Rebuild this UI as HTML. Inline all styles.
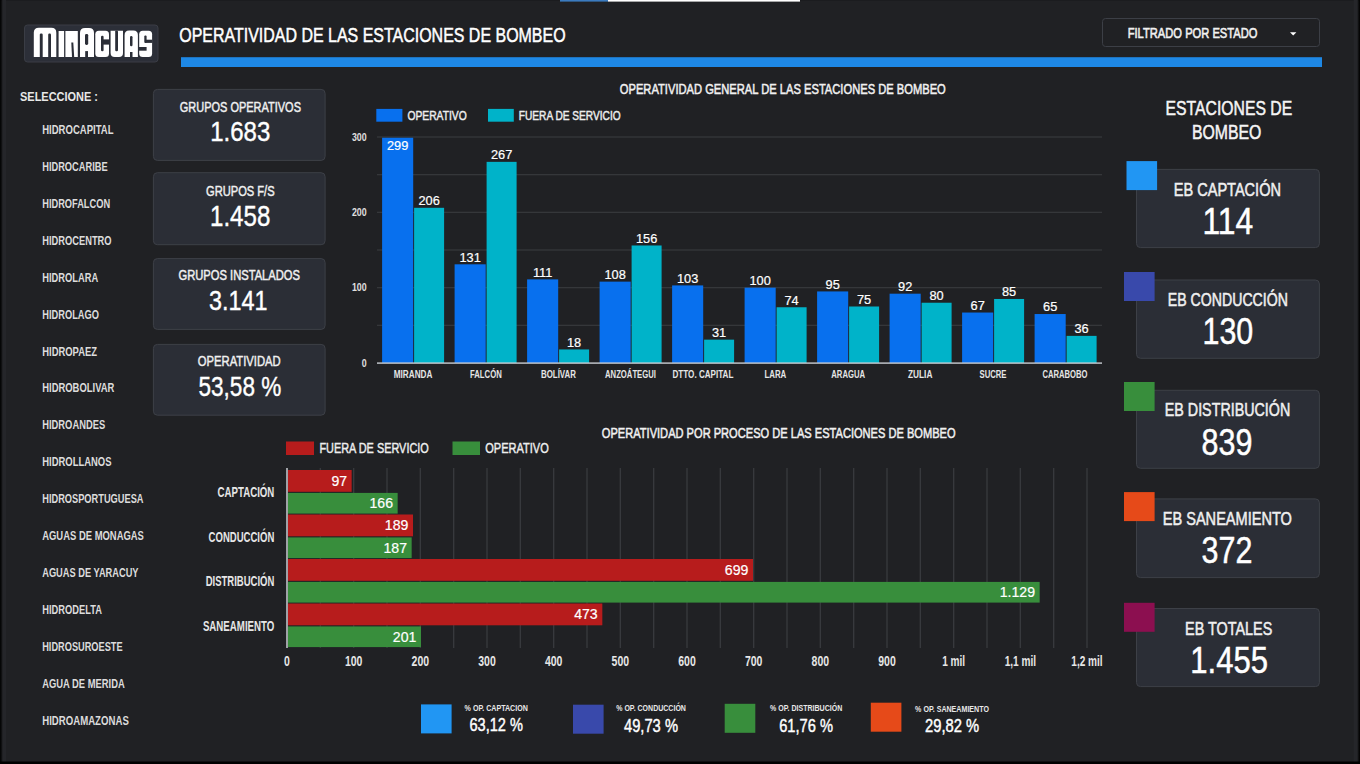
<!DOCTYPE html>
<html><head><meta charset="utf-8"><title>Operatividad de las Estaciones de Bombeo</title>
<style>
html,body{margin:0;padding:0;background:#202124;width:1360px;height:764px;overflow:hidden}
svg{display:block;font-family:"Liberation Sans",sans-serif}
</style></head><body>
<svg width="1360" height="764" viewBox="0 0 1360 764">
<defs>
<linearGradient id="lg" x1="0" x2="1" y1="0" y2="0"><stop offset="0" stop-color="#000"/><stop offset="1" stop-color="#000" stop-opacity="0"/></linearGradient>
<linearGradient id="rg" x1="1" x2="0" y1="0" y2="0"><stop offset="0" stop-color="#000"/><stop offset="1" stop-color="#000" stop-opacity="0"/></linearGradient>
</defs>
<rect width="1360" height="764" fill="#202124"/>
<rect x="0" y="0" width="1360" height="1" fill="#1b1c1f"/>
<rect x="560.00" y="0.00" width="48.00" height="1.60" fill="#3b7bbf" />
<rect x="608.00" y="0.00" width="192.00" height="1.60" fill="#ffffff" />
<rect x="24.5" y="25" width="133.5" height="37" rx="3" fill="#2c2f38" stroke="#3a3d45" stroke-width="1"/>
<g fill="#ffffff">
<path d="M33.8 57 V32.8 Q33.8 27.8 38.8 27.8 H51.3 Q56.3 27.8 56.3 32.8 V57 Z"/>
<rect x="58.6" y="31" width="5.5" height="26"/>
<rect x="65.4" y="31" width="12.4" height="26"/>
<path d="M80 57 V33 Q80 28 85 28 H89 Q94 28 94 33 V57 Z"/>
<rect x="95.3" y="30.7" width="13.7" height="26.3" rx="3.5"/>
<path d="M110.6 30.7 H123 V53 Q123 57 119 57 H114.6 Q110.6 57 110.6 53 Z"/>
<path d="M124.6 57 V35 Q124.6 30.5 129.1 30.5 H133.4 Q137.9 30.5 137.9 35 V57 Z"/>
<rect x="139.2" y="30.8" width="12.9" height="26.2" rx="3.5"/>
</g>
<g fill="#2b2e37">
<rect x="39.8" y="33.6" width="2.9" height="24" rx="1.2"/>
<rect x="48.2" y="33.6" width="2.8" height="24" rx="1.2"/>
<path d="M71.3 42.5 H73.3 L74.2 57.2 H72 Z"/>
<rect x="85" y="33.9" width="3.2" height="11.1" rx="1.4"/>
<rect x="85.2" y="51.1" width="2.8" height="6.2"/>
<rect x="101" y="35.8" width="2.6" height="15.5" rx="1.2"/>
<rect x="103" y="39.4" width="6.4" height="5.2"/>
<rect x="115.2" y="30.4" width="2.8" height="20.9" rx="1.2"/>
<rect x="130" y="36" width="2.5" height="10.3" rx="1.2"/>
<rect x="130" y="52" width="2.5" height="5.3"/>
<rect x="144.3" y="35.5" width="2.3" height="7.4" rx="1"/>
<rect x="145" y="39.7" width="7.4" height="3.2"/>
<rect x="138.9" y="47" width="7.7" height="3.7"/>
</g>

<text transform="translate(179.30,42.00) scale(0.7800,1)" font-size="20.49" font-weight="normal" fill="#fff" stroke="#fff" stroke-width="0.5">OPERATIVIDAD DE LAS ESTACIONES DE BOMBEO</text>
<rect x="181.00" y="57.20" width="1141.00" height="9.80" fill="#1e88e5" />
<rect x="1102.5" y="18.5" width="217" height="28" rx="3" fill="none" stroke="#3c3f46" stroke-width="1"/>
<text transform="translate(1127.70,38.00) scale(0.8005,1)" font-size="13.95" font-weight="normal" fill="#f1f1f1" stroke="#f1f1f1" stroke-width="0.55">FILTRADO POR ESTADO</text>
<path d="M1290 32.2 L1296.4 32.2 L1293.2 35.4 Z" fill="#fff"/>
<text transform="translate(20.00,100.90) scale(0.8040,1)" font-size="13.66" font-weight="bold" fill="#e8e8e8">SELECCIONE :</text>
<text transform="translate(42.20,134.00) scale(0.7818,1)" font-size="12.21" font-weight="bold" fill="#dcdcdc">HIDROCAPITAL</text>
<text transform="translate(42.20,170.92) scale(0.7604,1)" font-size="12.21" font-weight="bold" fill="#dcdcdc">HIDROCARIBE</text>
<text transform="translate(42.20,207.84) scale(0.7593,1)" font-size="12.21" font-weight="bold" fill="#dcdcdc">HIDROFALCON</text>
<text transform="translate(42.20,244.76) scale(0.7635,1)" font-size="12.21" font-weight="bold" fill="#dcdcdc">HIDROCENTRO</text>
<text transform="translate(42.20,281.68) scale(0.7658,1)" font-size="12.21" font-weight="bold" fill="#dcdcdc">HIDROLARA</text>
<text transform="translate(42.20,318.60) scale(0.7614,1)" font-size="12.21" font-weight="bold" fill="#dcdcdc">HIDROLAGO</text>
<text transform="translate(42.20,355.52) scale(0.7733,1)" font-size="12.21" font-weight="bold" fill="#dcdcdc">HIDROPAEZ</text>
<text transform="translate(42.20,392.44) scale(0.7730,1)" font-size="12.21" font-weight="bold" fill="#dcdcdc">HIDROBOLIVAR</text>
<text transform="translate(42.20,429.36) scale(0.7685,1)" font-size="12.21" font-weight="bold" fill="#dcdcdc">HIDROANDES</text>
<text transform="translate(42.20,466.28) scale(0.7749,1)" font-size="12.21" font-weight="bold" fill="#dcdcdc">HIDROLLANOS</text>
<text transform="translate(42.20,503.20) scale(0.7588,1)" font-size="12.21" font-weight="bold" fill="#dcdcdc">HIDROSPORTUGUESA</text>
<text transform="translate(42.20,540.12) scale(0.7735,1)" font-size="12.21" font-weight="bold" fill="#dcdcdc">AGUAS DE MONAGAS</text>
<text transform="translate(42.20,577.04) scale(0.7607,1)" font-size="12.21" font-weight="bold" fill="#dcdcdc">AGUAS DE YARACUY</text>
<text transform="translate(42.20,613.96) scale(0.7634,1)" font-size="12.21" font-weight="bold" fill="#dcdcdc">HIDRODELTA</text>
<text transform="translate(42.20,650.88) scale(0.7557,1)" font-size="12.21" font-weight="bold" fill="#dcdcdc">HIDROSUROESTE</text>
<text transform="translate(42.20,687.80) scale(0.7692,1)" font-size="12.21" font-weight="bold" fill="#dcdcdc">AGUA DE MERIDA</text>
<text transform="translate(42.20,724.72) scale(0.7890,1)" font-size="12.21" font-weight="bold" fill="#dcdcdc">HIDROAMAZONAS</text>
<rect x="153.4" y="89.40" width="171.7" height="71.00" rx="4" fill="#2b2e36" stroke="#3d4047" stroke-width="1"/>
<text transform="translate(179.80,111.90) scale(0.7793,1)" font-size="14.10" font-weight="normal" fill="#f0f0f0" stroke="#f0f0f0" stroke-width="0.45">GRUPOS OPERATIVOS</text>
<text transform="translate(210.20,140.90) scale(0.8479,1)" font-size="28.34" font-weight="normal" fill="#fff" stroke="#fff" stroke-width="0.4">1.683</text>
<rect x="153.4" y="172.70" width="171.7" height="72.00" rx="4" fill="#2b2e36" stroke="#3d4047" stroke-width="1"/>
<text transform="translate(206.00,195.90) scale(0.7828,1)" font-size="14.24" font-weight="normal" fill="#f0f0f0" stroke="#f0f0f0" stroke-width="0.45">GRUPOS F/S</text>
<text transform="translate(210.00,226.20) scale(0.8294,1)" font-size="29.07" font-weight="normal" fill="#fff" stroke="#fff" stroke-width="0.4">1.458</text>
<rect x="153.4" y="258.60" width="171.7" height="70.80" rx="4" fill="#2b2e36" stroke="#3d4047" stroke-width="1"/>
<text transform="translate(178.50,280.00) scale(0.8104,1)" font-size="13.81" font-weight="normal" fill="#f0f0f0" stroke="#f0f0f0" stroke-width="0.45">GRUPOS INSTALADOS</text>
<text transform="translate(209.00,310.10) scale(0.8501,1)" font-size="27.47" font-weight="normal" fill="#fff" stroke="#fff" stroke-width="0.4">3.141</text>
<rect x="153.4" y="344.40" width="171.7" height="70.80" rx="4" fill="#2b2e36" stroke="#3d4047" stroke-width="1"/>
<text transform="translate(197.80,366.20) scale(0.7906,1)" font-size="14.24" font-weight="normal" fill="#f0f0f0" stroke="#f0f0f0" stroke-width="0.45">OPERATIVIDAD</text>
<text transform="translate(198.50,395.70) scale(0.8213,1)" font-size="27.47" font-weight="normal" fill="#fff" stroke="#fff" stroke-width="0.4">53,58 %</text>
<text transform="translate(619.80,94.30) scale(0.8008,1)" font-size="13.95" font-weight="normal" fill="#f0f0f0" stroke="#f0f0f0" stroke-width="0.5">OPERATIVIDAD GENERAL DE LAS ESTACIONES DE BOMBEO</text>
<rect x="376.30" y="108.90" width="26.10" height="12.80" fill="#0870ee" />
<text transform="translate(407.40,119.90) scale(0.8062,1)" font-size="12.79" font-weight="normal" fill="#eeeeee" stroke="#eeeeee" stroke-width="0.45">OPERATIVO</text>
<rect x="488.00" y="108.90" width="25.80" height="12.80" fill="#00b3c9" />
<text transform="translate(518.80,119.90) scale(0.7943,1)" font-size="12.79" font-weight="normal" fill="#eeeeee" stroke="#eeeeee" stroke-width="0.45">FUERA DE SERVICIO</text>
<rect x="377.00" y="324.73" width="725.00" height="1.20" fill="#37393d" />
<rect x="377.00" y="287.07" width="725.00" height="1.20" fill="#37393d" />
<rect x="377.00" y="249.40" width="725.00" height="1.20" fill="#37393d" />
<rect x="377.00" y="211.73" width="725.00" height="1.20" fill="#37393d" />
<rect x="377.00" y="174.07" width="725.00" height="1.20" fill="#37393d" />
<rect x="377.00" y="136.40" width="725.00" height="1.20" fill="#37393d" />
<text transform="translate(361.72,366.60) scale(0.8400,1)" font-size="10.47" font-weight="bold" fill="#e0e0e0">0</text>
<text transform="translate(351.92,291.27) scale(0.8400,1)" font-size="10.47" font-weight="bold" fill="#e0e0e0">100</text>
<text transform="translate(351.92,215.93) scale(0.8400,1)" font-size="10.47" font-weight="bold" fill="#e0e0e0">200</text>
<text transform="translate(351.92,140.60) scale(0.8400,1)" font-size="10.47" font-weight="bold" fill="#e0e0e0">300</text>
<rect x="382.10" y="137.75" width="31.10" height="225.25" fill="#0870ee" />
<text transform="translate(386.97,150.15) scale(1.0000,1)" font-size="12.79" font-weight="normal" fill="#ffffff" stroke="#ffffff" stroke-width="0.2">299</text>
<rect x="414.10" y="207.81" width="30.00" height="155.19" fill="#00b3c9" />
<text transform="translate(418.42,205.21) scale(1.0000,1)" font-size="12.79" font-weight="normal" fill="#ffffff" stroke="#ffffff" stroke-width="0.2">206</text>
<text transform="translate(393.80,378.20) scale(0.7815,1)" font-size="10.47" font-weight="bold" fill="#e6e6e6">MIRANDA</text>
<rect x="454.60" y="264.31" width="31.10" height="98.69" fill="#0870ee" />
<text transform="translate(459.47,261.71) scale(1.0000,1)" font-size="12.79" font-weight="normal" fill="#ffffff" stroke="#ffffff" stroke-width="0.2">131</text>
<rect x="486.60" y="161.86" width="30.00" height="201.14" fill="#00b3c9" />
<text transform="translate(490.92,159.26) scale(1.0000,1)" font-size="12.79" font-weight="normal" fill="#ffffff" stroke="#ffffff" stroke-width="0.2">267</text>
<text transform="translate(470.00,378.20) scale(0.7393,1)" font-size="10.47" font-weight="bold" fill="#e6e6e6">FALCÓN</text>
<rect x="527.10" y="279.38" width="31.10" height="83.62" fill="#0870ee" />
<text transform="translate(532.93,276.78) scale(1.0000,1)" font-size="12.79" font-weight="normal" fill="#ffffff" stroke="#ffffff" stroke-width="0.2">111</text>
<rect x="559.10" y="349.44" width="30.00" height="13.56" fill="#00b3c9" />
<text transform="translate(567.00,346.84) scale(1.0000,1)" font-size="12.79" font-weight="normal" fill="#ffffff" stroke="#ffffff" stroke-width="0.2">18</text>
<text transform="translate(541.00,378.20) scale(0.7536,1)" font-size="10.47" font-weight="bold" fill="#e6e6e6">BOLÍVAR</text>
<rect x="599.60" y="281.64" width="31.10" height="81.36" fill="#0870ee" />
<text transform="translate(604.47,279.04) scale(1.0000,1)" font-size="12.79" font-weight="normal" fill="#ffffff" stroke="#ffffff" stroke-width="0.2">108</text>
<rect x="631.60" y="245.48" width="30.00" height="117.52" fill="#00b3c9" />
<text transform="translate(635.92,242.88) scale(1.0000,1)" font-size="12.79" font-weight="normal" fill="#ffffff" stroke="#ffffff" stroke-width="0.2">156</text>
<text transform="translate(605.00,378.20) scale(0.7373,1)" font-size="10.47" font-weight="bold" fill="#e6e6e6">ANZOÁTEGUI</text>
<rect x="672.10" y="285.41" width="31.10" height="77.59" fill="#0870ee" />
<text transform="translate(676.97,282.81) scale(1.0000,1)" font-size="12.79" font-weight="normal" fill="#ffffff" stroke="#ffffff" stroke-width="0.2">103</text>
<rect x="704.10" y="339.65" width="30.00" height="23.35" fill="#00b3c9" />
<text transform="translate(712.00,337.05) scale(1.0000,1)" font-size="12.79" font-weight="normal" fill="#ffffff" stroke="#ffffff" stroke-width="0.2">31</text>
<text transform="translate(672.50,378.20) scale(0.7738,1)" font-size="10.47" font-weight="bold" fill="#e6e6e6">DTTO. CAPITAL</text>
<rect x="744.60" y="287.67" width="31.10" height="75.33" fill="#0870ee" />
<text transform="translate(749.47,285.07) scale(1.0000,1)" font-size="12.79" font-weight="normal" fill="#ffffff" stroke="#ffffff" stroke-width="0.2">100</text>
<rect x="776.60" y="307.25" width="30.00" height="55.75" fill="#00b3c9" />
<text transform="translate(784.50,304.65) scale(1.0000,1)" font-size="12.79" font-weight="normal" fill="#ffffff" stroke="#ffffff" stroke-width="0.2">74</text>
<text transform="translate(764.40,378.20) scale(0.7541,1)" font-size="10.47" font-weight="bold" fill="#e6e6e6">LARA</text>
<rect x="817.10" y="291.43" width="31.10" height="71.57" fill="#0870ee" />
<text transform="translate(825.55,288.83) scale(1.0000,1)" font-size="12.79" font-weight="normal" fill="#ffffff" stroke="#ffffff" stroke-width="0.2">95</text>
<rect x="849.10" y="306.50" width="30.00" height="56.50" fill="#00b3c9" />
<text transform="translate(857.00,303.90) scale(1.0000,1)" font-size="12.79" font-weight="normal" fill="#ffffff" stroke="#ffffff" stroke-width="0.2">75</text>
<text transform="translate(831.30,378.20) scale(0.7335,1)" font-size="10.47" font-weight="bold" fill="#e6e6e6">ARAGUA</text>
<rect x="889.60" y="293.69" width="31.10" height="69.31" fill="#0870ee" />
<text transform="translate(898.05,291.09) scale(1.0000,1)" font-size="12.79" font-weight="normal" fill="#ffffff" stroke="#ffffff" stroke-width="0.2">92</text>
<rect x="921.60" y="302.73" width="30.00" height="60.27" fill="#00b3c9" />
<text transform="translate(929.50,300.13) scale(1.0000,1)" font-size="12.79" font-weight="normal" fill="#ffffff" stroke="#ffffff" stroke-width="0.2">80</text>
<text transform="translate(908.00,378.20) scale(0.7917,1)" font-size="10.47" font-weight="bold" fill="#e6e6e6">ZULIA</text>
<rect x="962.10" y="312.53" width="31.10" height="50.47" fill="#0870ee" />
<text transform="translate(970.55,309.93) scale(1.0000,1)" font-size="12.79" font-weight="normal" fill="#ffffff" stroke="#ffffff" stroke-width="0.2">67</text>
<rect x="994.10" y="298.97" width="30.00" height="64.03" fill="#00b3c9" />
<text transform="translate(1002.00,296.37) scale(1.0000,1)" font-size="12.79" font-weight="normal" fill="#ffffff" stroke="#ffffff" stroke-width="0.2">85</text>
<text transform="translate(979.50,378.20) scale(0.7371,1)" font-size="10.47" font-weight="bold" fill="#e6e6e6">SUCRE</text>
<rect x="1034.60" y="314.03" width="31.10" height="48.97" fill="#0870ee" />
<text transform="translate(1043.05,311.43) scale(1.0000,1)" font-size="12.79" font-weight="normal" fill="#ffffff" stroke="#ffffff" stroke-width="0.2">65</text>
<rect x="1066.60" y="335.88" width="30.00" height="27.12" fill="#00b3c9" />
<text transform="translate(1074.50,333.28) scale(1.0000,1)" font-size="12.79" font-weight="normal" fill="#ffffff" stroke="#ffffff" stroke-width="0.2">36</text>
<text transform="translate(1042.50,378.20) scale(0.7301,1)" font-size="10.47" font-weight="bold" fill="#e6e6e6">CARABOBO</text>
<rect x="377.00" y="362.40" width="725.00" height="1.40" fill="#c8ccd2" />
<text transform="translate(601.80,438.00) scale(0.7954,1)" font-size="13.95" font-weight="normal" fill="#f0f0f0" stroke="#f0f0f0" stroke-width="0.5">OPERATIVIDAD POR PROCESO DE LAS ESTACIONES DE BOMBEO</text>
<rect x="286.00" y="441.50" width="28.00" height="13.50" fill="#b71c1c" />
<text transform="translate(319.40,453.00) scale(0.7146,1)" font-size="15.26" font-weight="normal" fill="#eeeeee" stroke="#eeeeee" stroke-width="0.45">FUERA DE SERVICIO</text>
<rect x="452.50" y="441.50" width="27.50" height="13.50" fill="#388e3c" />
<text transform="translate(485.30,453.00) scale(0.7235,1)" font-size="15.26" font-weight="normal" fill="#eeeeee" stroke="#eeeeee" stroke-width="0.45">OPERATIVO</text>
<rect x="319.63" y="468.00" width="1.40" height="180.00" fill="#37393d" />
<rect x="352.97" y="468.00" width="1.40" height="180.00" fill="#37393d" />
<rect x="386.30" y="468.00" width="1.40" height="180.00" fill="#37393d" />
<rect x="419.63" y="468.00" width="1.40" height="180.00" fill="#37393d" />
<rect x="452.97" y="468.00" width="1.40" height="180.00" fill="#37393d" />
<rect x="486.30" y="468.00" width="1.40" height="180.00" fill="#37393d" />
<rect x="519.63" y="468.00" width="1.40" height="180.00" fill="#37393d" />
<rect x="552.97" y="468.00" width="1.40" height="180.00" fill="#37393d" />
<rect x="586.30" y="468.00" width="1.40" height="180.00" fill="#37393d" />
<rect x="619.63" y="468.00" width="1.40" height="180.00" fill="#37393d" />
<rect x="652.97" y="468.00" width="1.40" height="180.00" fill="#37393d" />
<rect x="686.30" y="468.00" width="1.40" height="180.00" fill="#37393d" />
<rect x="719.63" y="468.00" width="1.40" height="180.00" fill="#37393d" />
<rect x="752.97" y="468.00" width="1.40" height="180.00" fill="#37393d" />
<rect x="786.30" y="468.00" width="1.40" height="180.00" fill="#37393d" />
<rect x="819.63" y="468.00" width="1.40" height="180.00" fill="#37393d" />
<rect x="852.97" y="468.00" width="1.40" height="180.00" fill="#37393d" />
<rect x="886.30" y="468.00" width="1.40" height="180.00" fill="#37393d" />
<rect x="919.63" y="468.00" width="1.40" height="180.00" fill="#37393d" />
<rect x="952.97" y="468.00" width="1.40" height="180.00" fill="#37393d" />
<rect x="986.30" y="468.00" width="1.40" height="180.00" fill="#37393d" />
<rect x="1019.63" y="468.00" width="1.40" height="180.00" fill="#37393d" />
<rect x="1052.97" y="468.00" width="1.40" height="180.00" fill="#37393d" />
<rect x="1086.30" y="468.00" width="1.40" height="180.00" fill="#37393d" />
<rect x="288.00" y="470.00" width="63.67" height="21.80" fill="#b71c1c" />
<text transform="translate(331.42,485.75) scale(1.0000,1)" font-size="14.10" font-weight="normal" fill="#ffffff" stroke="#ffffff" stroke-width="0.2">97</text>
<rect x="288.00" y="492.90" width="109.67" height="20.70" fill="#388e3c" />
<text transform="translate(369.52,508.10) scale(1.0000,1)" font-size="14.10" font-weight="normal" fill="#ffffff" stroke="#ffffff" stroke-width="0.2">166</text>
<text transform="translate(217.60,497.35) scale(0.6657,1)" font-size="14.53" font-weight="bold" fill="#e6e6e6">CAPTACIÓN</text>
<rect x="288.00" y="514.50" width="125.00" height="21.80" fill="#b71c1c" />
<text transform="translate(384.85,530.25) scale(1.0000,1)" font-size="14.10" font-weight="normal" fill="#ffffff" stroke="#ffffff" stroke-width="0.2">189</text>
<rect x="288.00" y="537.40" width="123.67" height="20.70" fill="#388e3c" />
<text transform="translate(383.52,552.60) scale(1.0000,1)" font-size="14.10" font-weight="normal" fill="#ffffff" stroke="#ffffff" stroke-width="0.2">187</text>
<text transform="translate(208.60,541.85) scale(0.6570,1)" font-size="14.53" font-weight="bold" fill="#e6e6e6">CONDUCCIÓN</text>
<rect x="288.00" y="559.00" width="465.00" height="21.80" fill="#b71c1c" />
<text transform="translate(724.85,574.75) scale(1.0000,1)" font-size="14.10" font-weight="normal" fill="#ffffff" stroke="#ffffff" stroke-width="0.2">699</text>
<rect x="288.00" y="581.90" width="751.67" height="20.70" fill="#388e3c" />
<text transform="translate(999.75,597.10) scale(1.0000,1)" font-size="14.10" font-weight="normal" fill="#ffffff" stroke="#ffffff" stroke-width="0.2">1.129</text>
<text transform="translate(205.70,586.35) scale(0.6546,1)" font-size="14.53" font-weight="bold" fill="#e6e6e6">DISTRIBUCIÓN</text>
<rect x="288.00" y="603.50" width="314.33" height="21.80" fill="#b71c1c" />
<text transform="translate(574.19,619.25) scale(1.0000,1)" font-size="14.10" font-weight="normal" fill="#ffffff" stroke="#ffffff" stroke-width="0.2">473</text>
<rect x="288.00" y="626.40" width="133.00" height="20.70" fill="#388e3c" />
<text transform="translate(392.85,641.60) scale(1.0000,1)" font-size="14.10" font-weight="normal" fill="#ffffff" stroke="#ffffff" stroke-width="0.2">201</text>
<text transform="translate(202.90,630.85) scale(0.6675,1)" font-size="14.53" font-weight="bold" fill="#e6e6e6">SANEAMIENTO</text>
<rect x="286.20" y="468.00" width="1.60" height="180.00" fill="#bfc3c8" />
<text transform="translate(284.09,666.30) scale(0.7600,1)" font-size="13.81" font-weight="bold" fill="#e6e6e6">0</text>
<text transform="translate(344.90,666.30) scale(0.7600,1)" font-size="13.81" font-weight="bold" fill="#e6e6e6">100</text>
<text transform="translate(411.57,666.30) scale(0.7600,1)" font-size="13.81" font-weight="bold" fill="#e6e6e6">200</text>
<text transform="translate(478.24,666.30) scale(0.7600,1)" font-size="13.81" font-weight="bold" fill="#e6e6e6">300</text>
<text transform="translate(544.90,666.30) scale(0.7600,1)" font-size="13.81" font-weight="bold" fill="#e6e6e6">400</text>
<text transform="translate(611.57,666.30) scale(0.7600,1)" font-size="13.81" font-weight="bold" fill="#e6e6e6">500</text>
<text transform="translate(678.24,666.30) scale(0.7600,1)" font-size="13.81" font-weight="bold" fill="#e6e6e6">600</text>
<text transform="translate(744.90,666.30) scale(0.7600,1)" font-size="13.81" font-weight="bold" fill="#e6e6e6">700</text>
<text transform="translate(811.57,666.30) scale(0.7600,1)" font-size="13.81" font-weight="bold" fill="#e6e6e6">800</text>
<text transform="translate(878.24,666.30) scale(0.7600,1)" font-size="13.81" font-weight="bold" fill="#e6e6e6">900</text>
<text transform="translate(942.18,666.30) scale(0.7300,1)" font-size="13.81" font-weight="bold" fill="#e6e6e6">1 mil</text>
<text transform="translate(1004.63,666.30) scale(0.7300,1)" font-size="13.81" font-weight="bold" fill="#e6e6e6">1,1 mil</text>
<text transform="translate(1071.30,666.30) scale(0.7300,1)" font-size="13.81" font-weight="bold" fill="#e6e6e6">1,2 mil</text>
<text transform="translate(1165.50,114.80) scale(0.7863,1)" font-size="20.06" font-weight="normal" fill="#f5f5f5" stroke="#f5f5f5" stroke-width="0.5">ESTACIONES DE</text>
<text transform="translate(1191.90,139.10) scale(0.7893,1)" font-size="20.06" font-weight="normal" fill="#f5f5f5" stroke="#f5f5f5" stroke-width="0.5">BOMBEO</text>
<rect x="1136.5" y="169.40" width="182.9" height="78.20" rx="4" fill="#2b2e36" stroke="#3d4047" stroke-width="1"/>
<rect x="1126.50" y="161.10" width="30.60" height="29.00" fill="#2196f3" />
<text transform="translate(1173.70,195.50) scale(0.8210,1)" font-size="17.73" font-weight="normal" fill="#f0f0f0" stroke="#f0f0f0" stroke-width="0.5">EB CAPTACIÓN</text>
<text transform="translate(1202.50,233.70) scale(0.8428,1)" font-size="37.79" font-weight="normal" fill="#fff" stroke="#fff" stroke-width="0.5">114</text>
<rect x="1136.5" y="280.00" width="182.9" height="78.30" rx="4" fill="#2b2e36" stroke="#3d4047" stroke-width="1"/>
<rect x="1124.00" y="272.00" width="30.60" height="29.00" fill="#3949ab" />
<text transform="translate(1167.70,306.10) scale(0.7988,1)" font-size="17.73" font-weight="normal" fill="#f0f0f0" stroke="#f0f0f0" stroke-width="0.5">EB CONDUCCIÓN</text>
<text transform="translate(1202.50,344.30) scale(0.8049,1)" font-size="37.79" font-weight="normal" fill="#fff" stroke="#fff" stroke-width="0.5">130</text>
<rect x="1136.5" y="390.30" width="182.9" height="78.00" rx="4" fill="#2b2e36" stroke="#3d4047" stroke-width="1"/>
<rect x="1124.00" y="382.00" width="30.60" height="29.00" fill="#388e3c" />
<text transform="translate(1164.80,416.40) scale(0.8067,1)" font-size="17.73" font-weight="normal" fill="#f0f0f0" stroke="#f0f0f0" stroke-width="0.5">EB DISTRIBUCIÓN</text>
<text transform="translate(1201.50,454.60) scale(0.8065,1)" font-size="37.79" font-weight="normal" fill="#fff" stroke="#fff" stroke-width="0.5">839</text>
<rect x="1136.5" y="498.90" width="182.9" height="78.70" rx="4" fill="#2b2e36" stroke="#3d4047" stroke-width="1"/>
<rect x="1124.00" y="492.10" width="30.60" height="29.00" fill="#e64a19" />
<text transform="translate(1162.70,525.00) scale(0.8222,1)" font-size="17.73" font-weight="normal" fill="#f0f0f0" stroke="#f0f0f0" stroke-width="0.5">EB SANEAMIENTO</text>
<text transform="translate(1201.50,563.20) scale(0.8065,1)" font-size="37.79" font-weight="normal" fill="#fff" stroke="#fff" stroke-width="0.5">372</text>
<rect x="1136.5" y="608.50" width="182.9" height="78.10" rx="4" fill="#2b2e36" stroke="#3d4047" stroke-width="1"/>
<rect x="1124.00" y="602.80" width="30.60" height="29.00" fill="#8c0f50" />
<text transform="translate(1185.10,634.60) scale(0.8124,1)" font-size="17.73" font-weight="normal" fill="#f0f0f0" stroke="#f0f0f0" stroke-width="0.5">EB TOTALES</text>
<text transform="translate(1190.30,672.80) scale(0.8229,1)" font-size="37.79" font-weight="normal" fill="#fff" stroke="#fff" stroke-width="0.5">1.455</text>
<rect x="421.00" y="704.40" width="30.60" height="29.00" fill="#2196f3" />
<text transform="translate(464.60,711.00) scale(0.7649,1)" font-size="9.30" font-weight="bold" fill="#e8e8e8">% OP. CAPTACION</text>
<text transform="translate(469.50,731.30) scale(0.7775,1)" font-size="18.75" font-weight="normal" fill="#ffffff" stroke="#ffffff" stroke-width="0.45">63,12 %</text>
<rect x="573.00" y="704.70" width="30.60" height="29.00" fill="#3949ab" />
<text transform="translate(616.20,711.30) scale(0.7560,1)" font-size="9.30" font-weight="bold" fill="#e8e8e8">% OP. CONDUCCIÓN</text>
<text transform="translate(624.00,731.60) scale(0.7847,1)" font-size="18.75" font-weight="normal" fill="#ffffff" stroke="#ffffff" stroke-width="0.45">49,73 %</text>
<rect x="724.70" y="703.80" width="30.60" height="29.00" fill="#388e3c" />
<text transform="translate(770.10,711.30) scale(0.7575,1)" font-size="9.30" font-weight="bold" fill="#e8e8e8">% OP. DISTRIBUCIÓN</text>
<text transform="translate(779.20,731.60) scale(0.7818,1)" font-size="18.75" font-weight="normal" fill="#ffffff" stroke="#ffffff" stroke-width="0.45">61,76 %</text>
<rect x="870.80" y="702.70" width="30.60" height="29.00" fill="#e64a19" />
<text transform="translate(915.10,711.80) scale(0.7631,1)" font-size="9.30" font-weight="bold" fill="#e8e8e8">% OP. SANEAMIENTO</text>
<text transform="translate(925.00,732.10) scale(0.7862,1)" font-size="18.75" font-weight="normal" fill="#ffffff" stroke="#ffffff" stroke-width="0.45">29,82 %</text>
<rect x="2" y="0" width="4" height="764" fill="#25262a"/>
<rect x="0" y="0" width="3" height="764" fill="url(#lg)"/>
<rect x="1353.7" y="0" width="4.3" height="764" fill="#25262a"/>
<rect x="1357" y="0" width="3" height="764" fill="url(#rg)"/>
<rect x="0" y="761.5" width="1360" height="3" fill="#000"/>
</svg>
</body></html>
